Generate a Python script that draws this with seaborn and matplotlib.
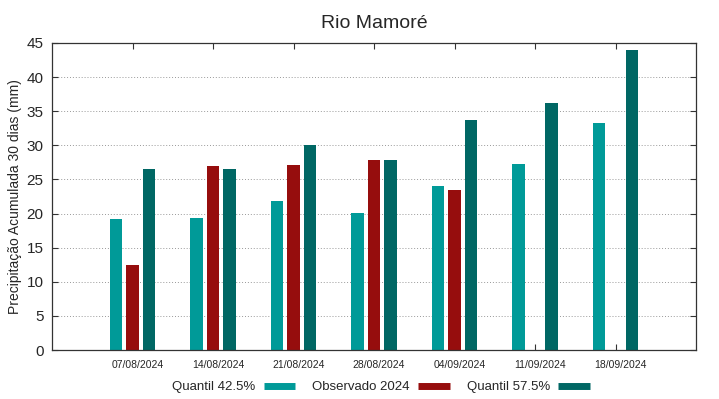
import matplotlib
matplotlib.use("Agg")
import matplotlib.pyplot as plt
import matplotlib.transforms as mtransforms
import seaborn as sns
import numpy as np
import pandas as pd
from matplotlib.lines import Line2D

dates = ["07/08/2024", "14/08/2024", "21/08/2024", "28/08/2024", "04/09/2024", "11/09/2024", "18/09/2024"]
series_names = ["Quantil 42.5%", "Observado 2024", "Quantil 57.5%"]
q425 = [19.2, 19.3, 21.9, 20.1, 24.1, 27.2, 33.3]
obs2024 = [12.4, 27.0, 27.1, 27.9, 23.5, np.nan, np.nan]
q575 = [26.6, 26.6, 30.0, 27.8, 33.7, 36.2, 44.0]
colors = ["#009a98", "#960d0d", "#006764"]

df = pd.DataFrame({
    "date": dates * 3,
    "series": [s for s in series_names for _ in dates],
    "value": q425 + obs2024 + q575,
})

sns.set_style("white")
plt.rcParams["font.family"] = ["Liberation Sans", "DejaVu Sans"]

fig = plt.figure(figsize=(7.19, 3.99), dpi=100)
ax = fig.add_axes([52/719, 49/399, (696-52)/719, (350-43)/399])

sns.barplot(data=df, x="date", y="value", hue="series", order=dates,
            hue_order=series_names, palette=colors, width=0.615, gap=0.24,
            dodge=True, ax=ax, legend=False, saturation=1, edgecolor="none")

ax.set_xlim(-1, 7)
ax.set_ylim(0, 45)
ax.set_yticks(range(0, 46, 5))
ax.yaxis.grid(True, linestyle=(0, (1, 2)), color="#999999", linewidth=0.7)
ax.xaxis.grid(False)
ax.set_axisbelow(True)
for s in ax.spines.values():
    s.set_visible(True)
    s.set_color("#333333")
    s.set_linewidth(0.9)

ax.tick_params(axis="both", direction="in", top=True, right=True, bottom=True, left=True,
               length=4, width=0.8, color="#333333")
ax.tick_params(axis="y", labelsize=11, pad=6)
ax.tick_params(axis="x", labelsize=7.5, pad=7)
offset = mtransforms.ScaledTranslation(5/100, 0, fig.dpi_scale_trans)
for lab in ax.get_xticklabels():
    lab.set_transform(lab.get_transform() + offset)
ax.set_xlabel("")
ax.set_ylabel("Precipitação Acumulada 30 dias (mm)", fontsize=10, labelpad=3)
ax.set_title("Rio Mamoré", fontsize=14, pad=11)

handles = [Line2D([0], [0], color=c, linewidth=5, solid_capstyle="butt") for c in colors]
fig.legend(handles, series_names, loc="center", bbox_to_anchor=(381/719, 12/399),
           ncol=3, frameon=False, markerfirst=False, fontsize=9.5, handlelength=2.4,
           columnspacing=1.3, handletextpad=0.6, borderpad=0)

fig.savefig("out.png", dpi=100)
